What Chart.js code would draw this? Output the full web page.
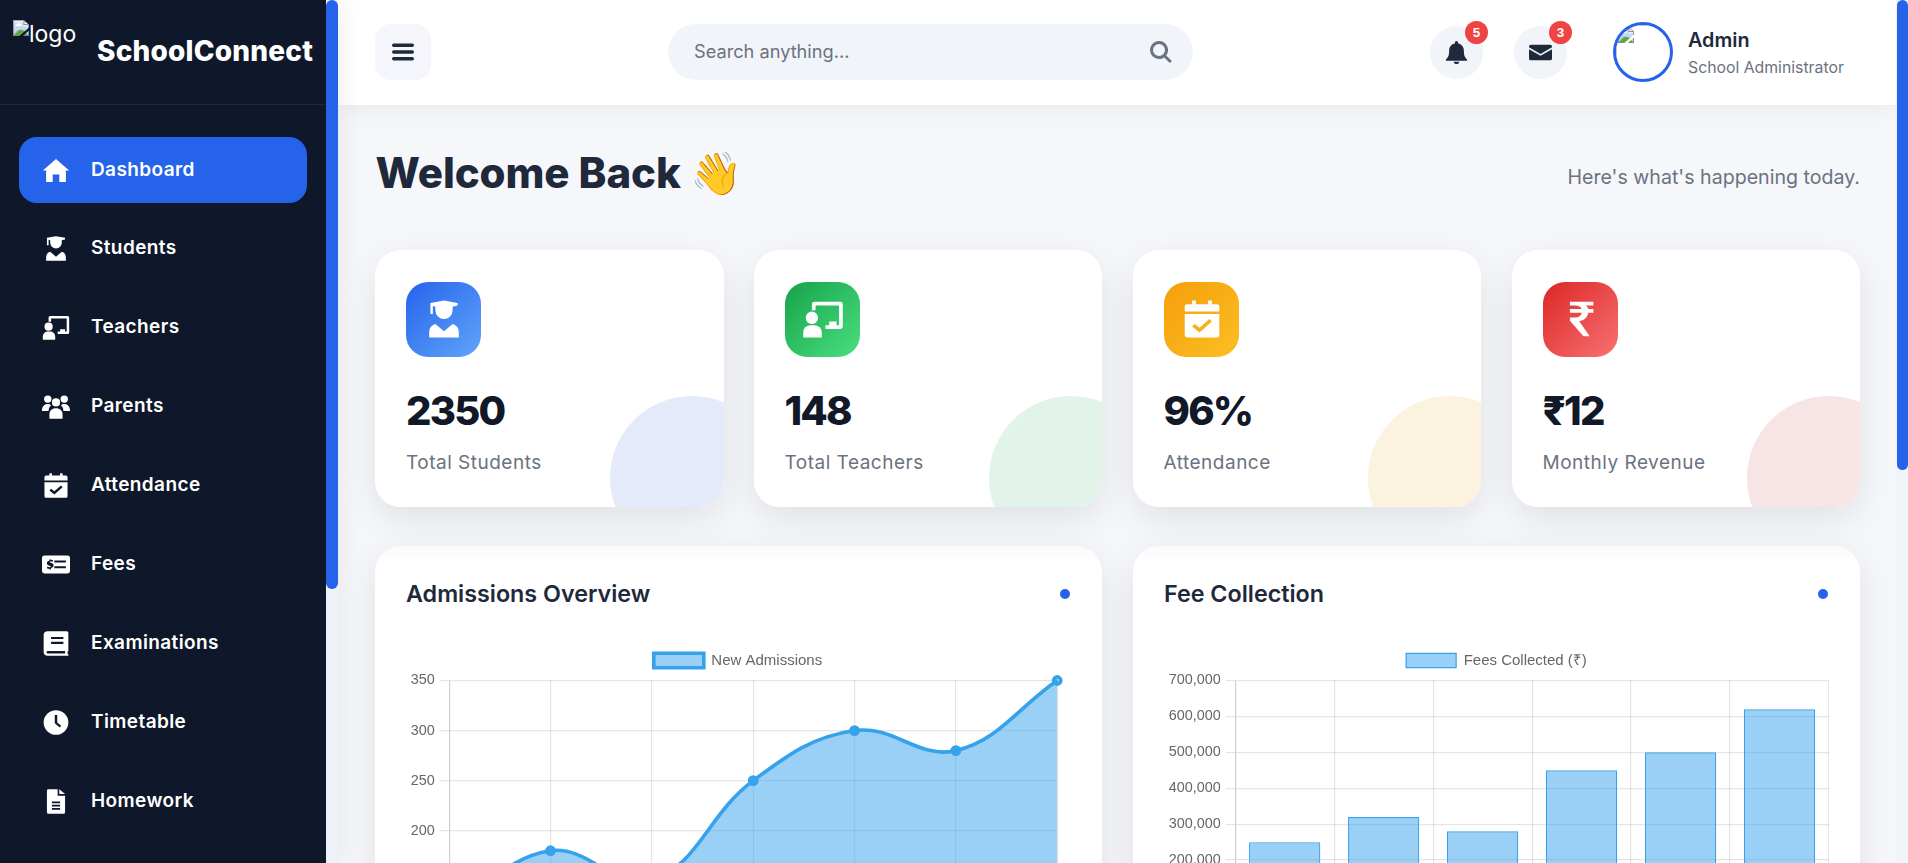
<!DOCTYPE html>
<html lang="en">
<head>
<meta charset="utf-8">
<title>SchoolConnect</title>
<script src="https://cdn.jsdelivr.net/npm/chart.js@4"></script>
<style>
* { box-sizing: border-box; margin: 0; padding: 0; }
html, body { width: 1908px; height: 863px; overflow: hidden; background: #f5f7fb; font-family: Inter, "Noto Sans", sans-serif; }
.sidebar { position: absolute; left: 0; top: 0; width: 338px; height: 863px; background: #0f172a; z-index: 5; box-shadow: 5px 0 24px rgba(0,0,0,.06); }
.sb-track { position: absolute; left: 326px; top: 0; width: 12px; height: 863px; background: #eef1f8; }
.sb-thumb { position: absolute; left: 326px; top: 0; width: 12px; height: 589px; background: #2563eb; border-radius: 6px; }
.brand { position: absolute; left: 0; top: 0; width: 326px; height: 105px; border-bottom: 1px solid #1e293b; }
.brand img { position: absolute; left: 13px; top: 20px; color: #fff; font-size: 23px; }
.brand b { position: absolute; left: 97px; top: 34px; color: #fff; font-size: 28px; font-weight: 800; letter-spacing: .2px; white-space: nowrap; }
.nav a { position: absolute; left: 19px; width: 288px; height: 66px; border-radius: 18px; display: flex; align-items: center; color: #fff; font-size: 19px; font-weight: 600; letter-spacing: .4px; }
.nav a.on { background: #2563eb; }
.nav svg { position: absolute; left: 23px; width: 28px; height: 25px; fill: #fff; }
.nav span { position: absolute; left: 72px; top: 20px; line-height: 26px; }
.topbar { position: absolute; left: 338px; top: 0; width: 1558px; height: 105px; background: #fff; box-shadow: 0 4px 24px rgba(0,0,0,.06); z-index: 2; }
.main-track { position: absolute; left: 1896px; top: 0; width: 12px; height: 863px; background: #f1f5f9; z-index: 6; }
.main-thumb { position: absolute; left: 1897px; top: 0; width: 11px; height: 470px; background: #2563eb; border-radius: 6px; z-index: 7; }
.toggle { position: absolute; left: 37px; top: 24px; width: 56px; height: 56px; border-radius: 16px; background: #f4f6fb; }
.toggle svg { position: absolute; left: 17px; top: 17px; width: 22px; height: 22px; fill: #1e293b; }
.search { position: absolute; left: 330px; top: 24px; width: 525px; height: 56px; border-radius: 28px; background: #f1f5f9; color: #6b7280; font-size: 18.200px; line-height: 55px; padding-left: 26px; }
.search svg { position: absolute; right: 20px; top: 16px; width: 24px; height: 24px; fill: #6b7280; }
.round { position: absolute; top: 26px; width: 53px; height: 53px; border-radius: 50%; background: #f1f5f9; }
.round svg { position: absolute; left: 15px; top: 15px; width: 23px; height: 23px; fill: #1e293b; }
.badge { position: absolute; top: -5px; left: 35px; width: 23px; height: 23px; border-radius: 50%; background: #ef4444; color: #fff; font: bold 13.5px/23px "Liberation Sans", sans-serif; text-align: center; }
.avatar { position: absolute; left: 1275px; top: 22px; width: 60px; height: 60px; border-radius: 50%; border: 3.6px solid #2563eb; object-fit: cover; }
.who { position: absolute; left: 1350px; top: 27px; white-space: nowrap; }
.who b { display: block; font-size: 19.800px; font-weight: 600; color: #1e293b; line-height: 26px; }
.who small { display: block; font-size: 15.8px; color: #6b7280; line-height: 29px; }
h1 { position: absolute; left: 375.500px; top: 146px; font-size: 42px; line-height: 54px; font-weight: 800; color: #1e293b; white-space: nowrap; letter-spacing: -.1px; }
.sub { position: absolute; right: 48px; top: 165px; font-size: 19.600px; color: #6b7280; white-space: nowrap; }
.kpi { position: absolute; top: 250px; width: 348.500px; height: 257px; background: #fff; border-radius: 26px; overflow: hidden; }
.kpi-shadow { position: absolute; top: 250px; width: 348.500px; height: 257px; border-radius: 26px; box-shadow: 0 12px 36px rgba(0,0,0,.09); }
.kpi i { position: absolute; left: 31px; top: 32px; width: 75px; height: 75px; border-radius: 22px; }
.kpi i svg { position: absolute; left: 17px; top: 17px; width: 42px; height: 40px; fill: #fff; }
.kpi .num { position: absolute; left: 31px; top: 134px; font-size: 40px; font-weight: 800; line-height: 54px; color: #111827; letter-spacing: -1.800px; }
.kpi .lab { position: absolute; left: 31px; top: 200px; font-size: 19px; font-weight: 400; letter-spacing: .5px; line-height: 26px; color: #6b7280; white-space: nowrap; }
.kpi u { position: absolute; left: 235px; top: 146px; width: 164px; height: 164px; border-radius: 50%; }
.panel { position: absolute; top: 546px; width: 727px; height: 520px; background: linear-gradient(#fafafa, #fff 18px); border-radius: 26px; box-shadow: 0 10px 36px rgba(0,0,0,.09); }
.panel h3 { position: absolute; left: 31px; top: 32px; font-size: 23.300px; font-weight: 600; line-height: 32px; color: #1e293b; white-space: nowrap; }
.panel em { position: absolute; top: 43px; width: 10px; height: 10px; border-radius: 50%; background: #2563eb; }
canvas { position: absolute; left: 31px; top: 95px; }
</style>
</head>
<body>
<svg width="0" height="0" style="position:absolute">
  <symbol id="i-home" viewBox="0 0 34 30"><path d="M17 1 33 15h-4v14h-8v-9h-8v9H5V15H1z"/></symbol>
  <symbol id="i-grad" viewBox="0 0 34 30"><path d="M6 2 17 0l11 2v2l-4 1v3a7 7 0 0 1-14 0V5L8 4.500V11H6zM10 19l7 6 7-6c3 1 5 3 5 7v4H5v-4c0-4 2-6 5-7z"/></symbol>
  <symbol id="i-board" viewBox="0 0 34 30"><path d="M10 1h21a2 2 0 0 1 2 2v18a2 2 0 0 1-2 2H19v-3h3v-3h6v3h2V4H11v4h-3V3a2 2 0 0 1 2-2z"/><circle cx="8" cy="14" r="5"/><path d="M1 30v-4a6 6 0 0 1 6-6h3a6 6 0 0 1 6 6v4z"/></symbol>
  <symbol id="i-users" viewBox="0 0 34 30"><circle cx="7" cy="6" r="4.500"/><circle cx="27" cy="6" r="4.500"/><circle cx="17" cy="10" r="5"/><path d="M0 20c0-5 3-8 7-8 2 0 3 .5 4 1.500-2 2-3 4-3 7H0zM34 20c0-5-3-8-7-8-2 0-3 .5-4 1.500 2 2 3 4 3 7h8zM9 30v-5c0-5 3-8 8-8s8 3 8 8v5z"/></symbol>
  <symbol id="i-cal" viewBox="0 0 34 30"><path fill-rule="evenodd" d="M9 0h3v3h10V0h3v3h4a2 2 0 0 1 2 2v4H3V5a2 2 0 0 1 2-2h4zM3 11h28v17a2 2 0 0 1-2 2H5a2 2 0 0 1-2-2zm8 8-2 2 6 5 10-9-2-2-8 7z"/></symbol>
  <symbol id="i-fee" viewBox="0 0 34 30"><path fill-rule="evenodd" d="M3 4h28a3 3 0 0 1 3 3v16a3 3 0 0 1-3 3H3a3 3 0 0 1-3-3V7a3 3 0 0 1 3-3zm12 6v2.500h14V10zm0 7v2.500h14V17zM9 9v1.500c-2 .3-3 1.500-3 3 0 3.500 4.800 2.500 4.800 4 0 1-2.800 1-4.300 0l-.5 2c.8.400 1.600.6 3 .7V21h2v-1.800c2-.3 3-1.600 3-3.200 0-3.500-4.800-2.600-4.800-4 0-.9 2.200-.9 3.800-.2l.5-2c-.8-.4-1.500-.5-2.500-.6V9z"/></symbol>
  <symbol id="i-book" viewBox="0 0 34 30"><path fill-rule="evenodd" d="M7 0h23a2 2 0 0 1 2 2v22l-1 1v2l1 1v2H7a5 5 0 0 1-5-5V5a5 5 0 0 1 5-5zm4 7v2.500h15V7zm0 6v2.500h15V13zM7 24a1.500 1.500 0 0 0 0 3h21v-3z"/></symbol>
  <symbol id="i-clock" viewBox="0 0 34 30"><path fill-rule="evenodd" d="M17 0a15 15 0 1 1 0 30 15 15 0 0 1 0-30zm-1.500 6v10l6 5 1.800-2.200-4.800-3.900V6z"/></symbol>
  <symbol id="i-file" viewBox="0 0 34 30"><path fill-rule="evenodd" d="M7 0h12v8h9v20a2 2 0 0 1-2 2H8a2 2 0 0 1-2-2V2a2 2 0 0 1 1-2zm14 0 7 6h-7zM12 15v2h10v-2zm0 4v2h10v-2zm0 4v2h10v-2z"/></symbol>
  <symbol id="i-rupee" viewBox="0 0 34 30"><path d="M8 1h19v3h-6c1 .9 1.500 1.800 1.900 2.900H27v3h-4.100c-.7 3.800-3.400 6.200-7.400 6.800L24 29h-5L8 16.500v-2.800h4.500c2.700 0 4.500-1.300 5.100-3.800H8v-3h9.500c-.7-1.800-2.300-2.900-5-2.900H8z"/></symbol>
  <symbol id="i-bars" viewBox="0 0 26 26"><path d="M2 3h22a2 2 0 0 1 0 4H2a2 2 0 0 1 0-4zm0 8h22a2 2 0 0 1 0 4H2a2 2 0 0 1 0-4zm0 8h22a2 2 0 0 1 0 4H2a2 2 0 0 1 0-4z"/></symbol>
  <symbol id="i-search" viewBox="0 0 24 24"><path fill-rule="evenodd" d="M10 1a9 9 0 0 1 7.200 14.400l5.700 5.700-2 2-5.700-5.700A9 9 0 1 1 10 1zm0 3a6 6 0 1 0 0 12 6 6 0 0 0 0-12z"/></symbol>
  <symbol id="i-bell" viewBox="0 0 25 25"><path d="M12.500 0c1 0 1.700.8 1.700 1.800v1C18 3.500 20.500 6.500 20.500 10.500c0 5 1 7 3.500 9.500v1.500H1V20c2.500-2.500 3.500-4.500 3.500-9.500 0-4 2.500-7 6.300-7.700v-1c0-1 .7-1.800 1.700-1.800zM9.500 22.500h6c0 1.500-1.300 2.500-3 2.500s-3-1-3-2.500z"/></symbol>
  <symbol id="i-mail" viewBox="0 0 25 25"><path d="M2 4h21a2 2 0 0 1 2 2v.8L12.500 14 0 6.800V6a2 2 0 0 1 2-2zM0 9l12.500 7L25 9v10a2 2 0 0 1-2 2H2a2 2 0 0 1-2-2z"/></symbol>
</svg>

<div class="sidebar">
  <div class="brand"><img src="logo.png" alt="logo"><b>SchoolConnect</b></div>
  <div class="nav">
    <a class="on" style="top:137px"><svg><use href="#i-home"/></svg><span>Dashboard</span></a>
    <a style="top:215px"><svg><use href="#i-grad"/></svg><span>Students</span></a>
    <a style="top:294px"><svg><use href="#i-board"/></svg><span>Teachers</span></a>
    <a style="top:373px"><svg><use href="#i-users"/></svg><span>Parents</span></a>
    <a style="top:452px"><svg><use href="#i-cal"/></svg><span>Attendance</span></a>
    <a style="top:531px"><svg><use href="#i-fee"/></svg><span>Fees</span></a>
    <a style="top:610px"><svg><use href="#i-book"/></svg><span>Examinations</span></a>
    <a style="top:689px"><svg><use href="#i-clock"/></svg><span>Timetable</span></a>
    <a style="top:768px"><svg><use href="#i-file"/></svg><span>Homework</span></a>
  </div>
  <div class="sb-track"></div>
  <div class="sb-thumb"></div>
</div>

<div class="topbar">
  <div class="toggle"><svg><use href="#i-bars"/></svg></div>
  <div class="search">Search anything...<svg><use href="#i-search"/></svg></div>
  <div class="round" style="left:1092px"><svg><use href="#i-bell"/></svg><div class="badge">5</div></div>
  <div class="round" style="left:1176px"><svg><use href="#i-mail"/></svg><div class="badge">3</div></div>
  <img class="avatar" src="avatar.png">
  <div class="who"><b>Admin</b><small>School Administrator</small></div>
</div>
<div class="main-track"></div>
<div class="main-thumb"></div>

<h1>Welcome Back 👋</h1>
<div class="sub">Here's what's happening today.</div>

<div class="kpi-shadow" style="left:375px"></div>
<div class="kpi-shadow" style="left:753.500px"></div>
<div class="kpi-shadow" style="left:1132.500px"></div>
<div class="kpi-shadow" style="left:1511.500px"></div>

<div class="kpi" style="left:375px"><i style="background:linear-gradient(135deg,#2563eb,#60a5fa)"><svg><use href="#i-grad"/></svg></i><div class="num">2350</div><div class="lab">Total Students</div><u style="background:#e4eafa"></u></div>
<div class="kpi" style="left:753.500px"><i style="background:linear-gradient(135deg,#16a34a,#4ade80)"><svg><use href="#i-board"/></svg></i><div class="num">148</div><div class="lab">Total Teachers</div><u style="background:#e2f3e9"></u></div>
<div class="kpi" style="left:1132.500px"><i style="background:linear-gradient(135deg,#f59e0b,#fbbf24)"><svg><use href="#i-cal"/></svg></i><div class="num">96%</div><div class="lab">Attendance</div><u style="background:#fbf2df"></u></div>
<div class="kpi" style="left:1511.500px"><i style="background:linear-gradient(135deg,#dc2626,#f87171)"><svg><use href="#i-rupee"/></svg></i><div class="num">₹12</div><div class="lab">Monthly Revenue</div><u style="background:#f7e4e4"></u></div>

<div class="panel" style="left:375px"><h3>Admissions Overview</h3><em style="left:685px"></em><canvas id="admissions" width="664" height="424"></canvas></div>
<div class="panel" style="left:1133px"><h3>Fee Collection</h3><em style="left:685px"></em><canvas id="fees" width="665" height="325"></canvas></div>

<script>
const admissionMonths = ['Jan', 'Feb', 'Mar', 'Apr', 'May', 'Jun', 'Jul']
const admissionValues = [120, 180, 150, 250, 300, 280, 350]
const feeMonths = ['Jan', 'Feb', 'Mar', 'Apr', 'May', 'Jun']
const feeValues = [250000, 320000, 280000, 450000, 500000, 620000]

// the original page ran at 120% zoom, so every chart default is scaled by 1.2
Chart.defaults.font.size = 14.4
Chart.defaults.animation = false

const legendOpts = { labels: { boxWidth: 50, boxHeight: 14.4, padding: 12, font: { size: 15 } } }
const xAxisOpts = {
    grid: { lineWidth: 1.2, tickLength: 9.6 },
    border: { width: 1.2 },
    ticks: { padding: 3.6 },
}
const yAxisOpts = {
    grid: { lineWidth: 1.2, tickLength: 9.6 },
    border: { width: 1.2 },
    ticks: { padding: 4.8 },
    beginAtZero: true,
}

// legend.fit only adds a fixed 10px under the labels, it does not scale with the zoom
const legendGap = {
    id: 'legendGap',
    beforeInit(chart) {
        const fit = chart.legend.fit
        chart.legend.fit = function () {
            fit.call(this)
            this.height += 2.5
        }
    },
}

new Chart(document.querySelector('#admissions'), {
    type: 'line',
    data: {
        labels: admissionMonths,
        datasets: [{
            label: 'New Admissions',
            data: admissionValues,
            borderColor: '#36a2eb',
            backgroundColor: 'rgba(54,162,235,0.5)',
            borderWidth: 3.6,
            pointRadius: 3.6,
            fill: true,
            tension: 0.4,
        }],
    },
    options: {
        responsive: false,
        plugins: { legend: legendOpts },
        scales: { x: xAxisOpts, y: yAxisOpts },
    },
    plugins: [legendGap],
})

new Chart(document.querySelector('#fees'), {
    type: 'bar',
    data: {
        labels: feeMonths,
        datasets: [{
            label: 'Fees Collected (₹)',
            data: feeValues,
            borderColor: '#36a2eb',
            backgroundColor: 'rgba(54,162,235,0.5)',
            borderWidth: 1.2,
        }],
    },
    options: {
        responsive: false,
        plugins: { legend: legendOpts },
        scales: { x: xAxisOpts, y: yAxisOpts },
    },
    plugins: [legendGap],
})
</script>
</body>
</html>
